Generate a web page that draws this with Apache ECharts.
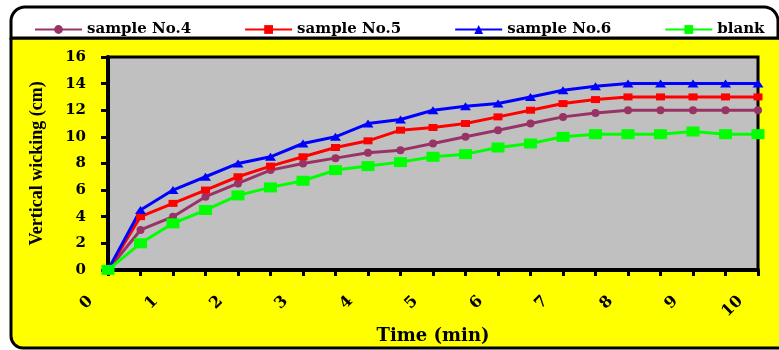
<!DOCTYPE html>
<html>
<head>
<meta charset="utf-8">
<script src="https://cdn.jsdelivr.net/npm/echarts@6/dist/echarts.min.js"></script>
<style>html,body{margin:0;padding:0;background:#fff;}#c{width:779px;height:350px;}</style>
</head>
<body>
<div id="c"></div>
<script>
const times = ['0','0.5','1','1.5','2','2.5','3','3.5','4','4.5','5','5.5','6','6.5','7','7.5','8','8.5','9','9.5','10'];
const sample4 = [0,3,4,5.5,6.5,7.5,8,8.4,8.8,9,9.5,10,10.5,11,11.5,11.8,12,12,12,12,12];
const sample5 = [0,4,5,6,7,7.8,8.5,9.2,9.7,10.5,10.7,11,11.5,12,12.5,12.8,13,13,13,13,13];
const sample6 = [0,4.5,6,7,8,8.5,9.5,10,11,11.3,12,12.3,12.5,13,13.5,13.8,14,14,14,14,14];
const blank   = [0,2,3.5,4.5,5.6,6.2,6.7,7.5,7.8,8.1,8.5,8.7,9.2,9.5,10,10.2,10.2,10.2,10.4,10.2,10.2];
const yTicks = {min:0, max:16, interval:2};

const chart = echarts.init(document.getElementById('c'));
const serif = 'DejaVu Serif';
function mk(name, data, color, symbol, size) {
  return {name, type:'line', data, symbol, symbolSize:size, showSymbol:true,
    lineStyle:{color, width:3}, itemStyle:{color}, animation:false};
}
chart.setOption({
  animation:false,
  graphic:[
    {type:'rect', z:-10, shape:{x:11,y:38,width:800,height:310,r:[0,0,0,12]}, style:{fill:'#FFFF00',stroke:'#000',lineWidth:3}},
    {type:'rect', z:-9, shape:{x:11,y:7,width:767,height:31,r:[14,14,0,0]}, style:{fill:'#fff',stroke:'#000',lineWidth:3}}
  ],
  legend:{
    left:29, top:17, itemWidth:47, itemHeight:11, itemGap:53,
    textStyle:{fontFamily:serif, fontWeight:'bold', fontSize:15, color:'#000'},
    data:['sample No.4','sample No.5','sample No.6','blank']
  },
  grid:{left:108, top:57, width:650, height:221, show:true, backgroundColor:'#C0C0C0', borderColor:'#000', borderWidth:3},
  xAxis:{
    type:'category', data:times, boundaryGap:false,
    name:'Time (min)', nameLocation:'middle', nameGap:55,
    nameTextStyle:{fontFamily:serif, fontWeight:'bold', fontSize:18, color:'#000'},
    axisLine:{lineStyle:{color:'#000', width:4}},
    axisTick:{interval:0, length:6, lineStyle:{color:'#000', width:3}},
    axisLabel:{interval:1, rotate:45, margin:11, padding:[0,25,0,0], showMinLabel:true, showMaxLabel:true,
      fontFamily:serif, fontWeight:'bold', fontSize:16, color:'#000'},
    splitLine:{show:false}
  },
  yAxis:{
    type:'value', min:yTicks.min, max:yTicks.max, interval:yTicks.interval,
    name:'Vertical wicking (cm)', nameLocation:'middle', nameGap:62,
    nameTextStyle:{fontFamily:'Liberation Serif', fontWeight:'bold', fontSize:18, color:'#000'},
    axisLine:{show:true, lineStyle:{color:'#000', width:4}},
    axisTick:{show:true, length:7, lineStyle:{color:'#000', width:3}},
    axisLabel:{margin:22, fontFamily:serif, fontWeight:'bold', fontSize:15, color:'#000'},
    splitLine:{show:false}
  },
  series:[
    mk('sample No.4', sample4, '#993366', 'circle', 8),
    mk('sample No.5', sample5, '#FF0000', 'rect', [9,7]),
    mk('sample No.6', sample6, '#0000FF', 'triangle', [11,8]),
    mk('blank', blank, '#00FF00', 'rect', [13,10])
  ]
});
</script>
</body>
</html>
